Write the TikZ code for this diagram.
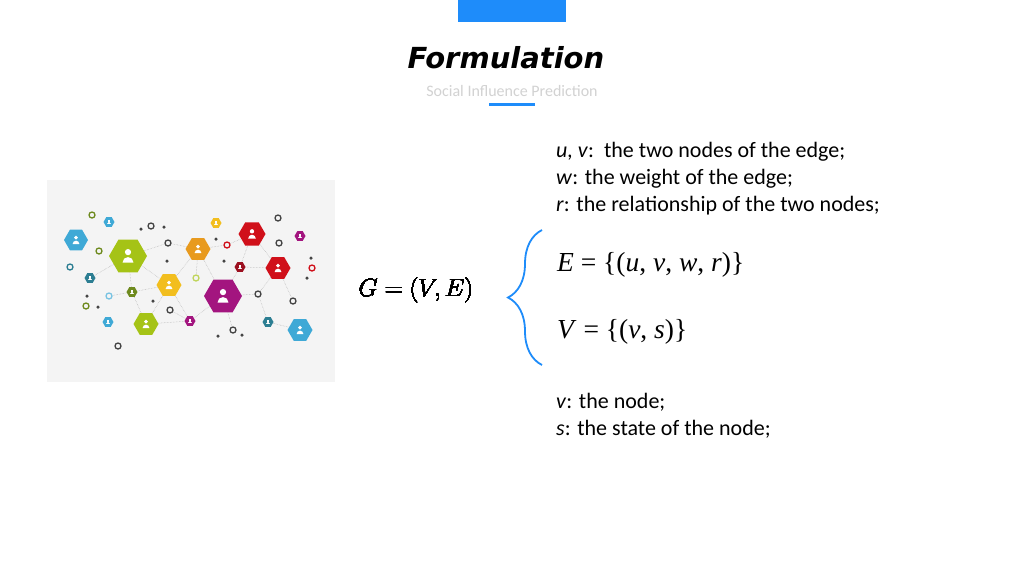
\documentclass[tikz,border=0pt]{standalone}
\usepackage{fontspec}
\setmainfont{Carlito}
\newfontfamily\tnr{Liberation Serif}
\newfontfamily\djv{DejaVu Sans}
\usetikzlibrary{shapes.geometric,decorations.pathreplacing,backgrounds}
\definecolor{bblue}{HTML}{1E8CFA}
\definecolor{hblue}{HTML}{3FA9D6}
\definecolor{hgreen}{HTML}{A5C316}
\definecolor{horange}{HTML}{E89A1E}
\definecolor{hred}{HTML}{D0101A}
\definecolor{hyellow}{HTML}{F2BE1E}
\definecolor{hmag}{HTML}{A3157F}
\definecolor{hteal}{HTML}{2C7E92}
\definecolor{holive}{HTML}{6E8A1E}
\definecolor{hdred}{HTML}{9C1020}
\definecolor{hdark}{HTML}{444444}
\tikzset{
 hex/.style={regular polygon,regular polygon sides=6,shape border rotate=0,fill=#1,draw=none,inner sep=0pt},
 ring/.style={circle,draw=#1,fill=gray!9,line width=1.3pt,minimum size=6pt,inner sep=0pt},
 dot/.style={circle,fill=hdark,minimum size=3.5pt,inner sep=0pt},
 link/.style={draw=gray!60,densely dotted,line width=0.5pt},
 txt/.style={anchor=west,font=\fontsize{22}{26}\selectfont,inner sep=0pt}
}
\newcommand\person[2]{\fill[white] (#1)++(0,{-0.3*#2}) circle ({0.24*#2});
 \fill[white] (#1)++({-0.42*#2},{0.5*#2}) arc[start angle=180,end angle=360,radius={0.42*#2}] -- cycle;}
\begin{document}
\begin{tikzpicture}[x=1pt,y=-1pt]
\useasboundingbox (0,0) rectangle (1024,576);
\begin{scope}[on background layer]
\fill[white] (0,0) rectangle (1024,576);
\fill[gray!9] (47,180) rectangle (335,382);
\end{scope}
\fill[bblue] (458,0) rectangle (566,22);
\node (title) at (506,58) {\djv\fontsize{29}{34}\selectfont\bfseries\itshape Formulation};
\node[text=gray!35] (sub) at (512,91) {\fontsize{16}{18}\selectfont Social Influence Prediction};
\fill[bblue] (489,103) rectangle (535,106);
% network picture
\node[hex=hblue,minimum size=24pt] (h1) at (76,240) {};
\node[hex=hgreen,minimum size=38pt] (h2) at (128,256) {};
\node[hex=horange,minimum size=25pt] (h3) at (198,249) {};
\node[hex=hred,minimum size=27pt] (h4) at (252,234) {};
\node[hex=hred,minimum size=25pt] (h5) at (278,268) {};
\node[hex=hyellow,minimum size=25pt] (h6) at (169,285) {};
\node[hex=hmag,minimum size=38pt] (h7) at (223,296) {};
\node[hex=hgreen,minimum size=25pt] (h8) at (146,324) {};
\node[hex=hblue,minimum size=25pt] (h9) at (300,330) {};
\node[hex=hblue,minimum size=11pt] (s1) at (109,222) {};
\node[hex=hyellow,minimum size=11pt] (s2) at (216,223) {};
\node[hex=hmag,minimum size=11pt] (s3) at (300,236) {};
\node[hex=hdred,minimum size=11pt] (s4) at (240,267) {};
\node[hex=hteal,minimum size=11pt] (s5) at (90,278) {};
\node[hex=holive,minimum size=11pt] (s6) at (132,292) {};
\node[hex=hmag,minimum size=11pt] (s7) at (190,321) {};
\node[hex=hteal,minimum size=11pt] (s8) at (268,322) {};
\node[hex=hblue,minimum size=11pt] (s9) at (108,322) {};
\node[ring=holive] (r1) at (92,215) {};
\node[ring=hdark] (r2) at (151,226) {};
\node[ring=holive] (r3) at (99,251) {};
\node[ring=hdark] (r4) at (168,243) {};
\node[ring=hred] (r5) at (227,245) {};
\node[ring=hdark] (r6) at (278,218) {};
\node[ring=hdark] (r7) at (279,243) {};
\node[ring=hteal] (r8) at (70,267) {};
\node[ring=hred] (r9) at (312,268) {};
\node[ring=hgreen!70] (r10) at (196,278) {};
\node[ring=hblue!70] (r11) at (109,296) {};
\node[ring=holive] (r12) at (86,306) {};
\node[ring=hdark] (r13) at (258,294) {};
\node[ring=hdark] (r14) at (293,301) {};
\node[ring=hdark] (r15) at (170,310) {};
\node[ring=hdark] (r16) at (233,330) {};
\node[ring=hdark] (r17) at (118,346) {};
\foreach \p in {(141,229),(164,227),(216,239),(167,261),(224,261),(311,258),(307,278),(87,296),(98,307),(153,301),(218,336),(242,335)} \node[dot] at \p {};
\begin{scope}[on background layer]
\draw[link] (h2) -- (h6) (h2) -- (r4) (h2) -- (s6) (h2) -- (s5) (h6) -- (h3) (h6) -- (s6) (h6) -- (h8) (h6) -- (s7)
 (h3) -- (h7) (h3) -- (r10) (h3) -- (r4) (h7) -- (s4) (h7) -- (r13) (h7) -- (s7) (s4) -- (h5) (s4) -- (h4) (r5) -- (h4)
 (h5) -- (r13) (r13) -- (s8) (s8) -- (h9) (h8) -- (s6) (h8) -- (s7) (s6) -- (r11) (r15) -- (s7) (h7) -- (r16) (r5) -- (h3) (h4) -- (h5) (h5) -- (r14);
\end{scope}
\foreach \n/\s in {h1/8,h2/13,h3/8,h4/9,h5/8,h6/8,h7/13,h8/8,h9/8} \person{\n}{\s}
\foreach \n in {s1,s2,s3,s4,s5,s6,s7,s8,s9} \person{\n}{3.5}
% formulas
\node (G) at (416,290) {\fontsize{29.5}{32}\selectfont $G=(V,E)$};
\draw[bblue,line width=1.8pt,decorate,decoration={brace,amplitude=34pt,aspect=0.5}] (542,365) -- (542,230);
\node[txt] (E) at (557,265) {\tnr\fontsize{27.5}{30}\selectfont \textit{E} = \{(\textit{u}, \textit{v}, \textit{w}, \textit{r})\}};
\node[txt] (V) at (557,332) {\tnr\fontsize{27.5}{30}\selectfont \textit{V} = \{(\textit{v}, \textit{s})\}};
\node[txt] (t1) at (556,152) {\textit{u, v}:\ \ the two nodes of the edge;};
\node[txt] (t2) at (556,179) {\textit{w}: the weight of the edge;};
\node[txt] (t3) at (556,206) {\textit{r}: the relationship of the two nodes;};
\node[txt] (t4) at (556,402) {\textit{v}: the node;};
\node[txt] (t5) at (556,429) {\textit{s}: the state of the node;};
\end{tikzpicture}
\end{document}
